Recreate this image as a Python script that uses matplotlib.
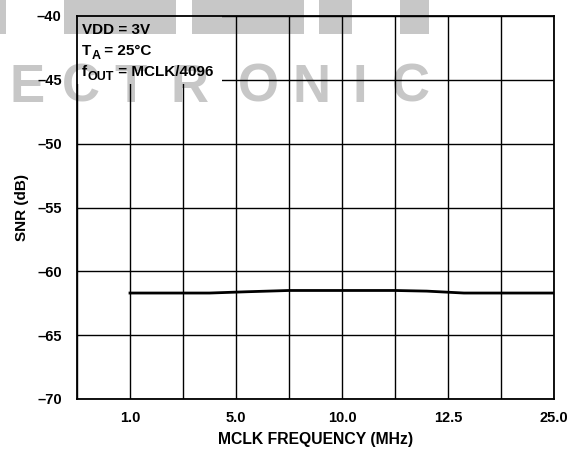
import numpy as np
import matplotlib
matplotlib.use("Agg")
import matplotlib.pyplot as plt
from matplotlib.patches import Rectangle

plt.rcParams['font.family'] = ['Liberation Sans', 'DejaVu Sans']
plt.rcParams['font.weight'] = 'bold'

# x axis is evenly spaced grid slots, labels sit on every other line
tick_pos = [1, 3, 5, 7, 9]
tick_labels = ['1.0', '5.0', '10.0', '12.5', '25.0']

# SNR curve (x in grid slots)
snr_x = [1, 2, 2.5, 3.2, 4, 5, 6, 6.6, 7.3, 8, 9]
snr_db = [-61.7, -61.7, -61.7, -61.6, -61.5, -61.5, -61.5, -61.55, -61.7, -61.7, -61.7]

fig = plt.figure(figsize=(5.72, 4.51), dpi=100)
ax = fig.add_axes([77 / 572, 1 - 399 / 451, 477 / 572, 383 / 451])

ax.plot(snr_x, snr_db, color='black', lw=2.0, zorder=4)

ax.set_xlim(0, 9)
ax.set_ylim(-70, -40)
ax.set_xticks(range(0, 10))
ax.set_xticklabels(['' if i not in tick_pos else tick_labels[tick_pos.index(i)] for i in range(10)])
ax.set_yticks(np.arange(-70, -39, 5))
ax.set_yticklabels(['\u201370', '\u201365', '\u201360', '\u201355', '\u201350', '\u201345', '\u201340'])
ax.tick_params(length=0, labelsize=10.5)
ax.tick_params(axis='x', pad=9)
ax.tick_params(axis='y', pad=11)
ax.grid(True, color='black', lw=1.0)
ax.set_axisbelow(True)
for s in ax.spines.values():
    s.set_linewidth(1.3)

ax.set_xlabel('MCLK FREQUENCY (MHz)', fontsize=11.3, fontweight='bold', labelpad=5)
ax.set_ylabel('SNR (dB)', fontsize=11, fontweight='bold', labelpad=6)

# white box behind the conditions text hides the grid there
ax.add_patch(Rectangle((0, 0.822), 0.304, 0.178, transform=ax.transAxes,
                       facecolor='white', edgecolor='none', zorder=1.5))


def sub_line(y, main, sub, rest):
    # main text, then a big subscript, then the rest, chained left to right
    t = ax.text(0.01, y, main, transform=ax.transAxes, fontsize=11, va='bottom', zorder=5)
    s = ax.annotate(sub, xy=(1, 0), xycoords=t, xytext=(0.3, -3), textcoords='offset points',
                    fontsize=9, va='bottom', zorder=5)
    ax.annotate(rest, xy=(1, 0), xycoords=s, xytext=(0, 3), textcoords='offset points',
                fontsize=11, va='bottom', zorder=5)


ax.text(0.01, 0.944, 'VDD = 3V', transform=ax.transAxes, fontsize=11, va='bottom', zorder=5)
sub_line(0.891, 'T', 'A', ' = 25\u00b0C')
sub_line(0.836, 'f', 'OUT', ' = MCLK/4096')

# faint scanned watermark over the top of the figure
wm_letters = ['E', 'C', 'T', 'R', 'O', 'N', 'I', 'C']
wm_x = [27, 81, 131, 190, 258, 311, 360, 411]
for ch, px in zip(wm_letters, wm_x):
    fig.text(px / 572, 1 - 88 / 451, ch, fontsize=38, fontweight='bold', color='black',
             alpha=0.22, ha='center', va='center', zorder=10)
wm_bars = [(0, 6), (64, 176), (192, 304), (319, 352), (400, 429)]
for x0, x1 in wm_bars:
    fig.patches.append(Rectangle((x0 / 572, 1 - 34 / 451), (x1 - x0) / 572, 34 / 451,
                                 transform=fig.transFigure, facecolor='black', alpha=0.22,
                                 edgecolor='none', zorder=10))

fig.savefig('out.png', dpi=100)
